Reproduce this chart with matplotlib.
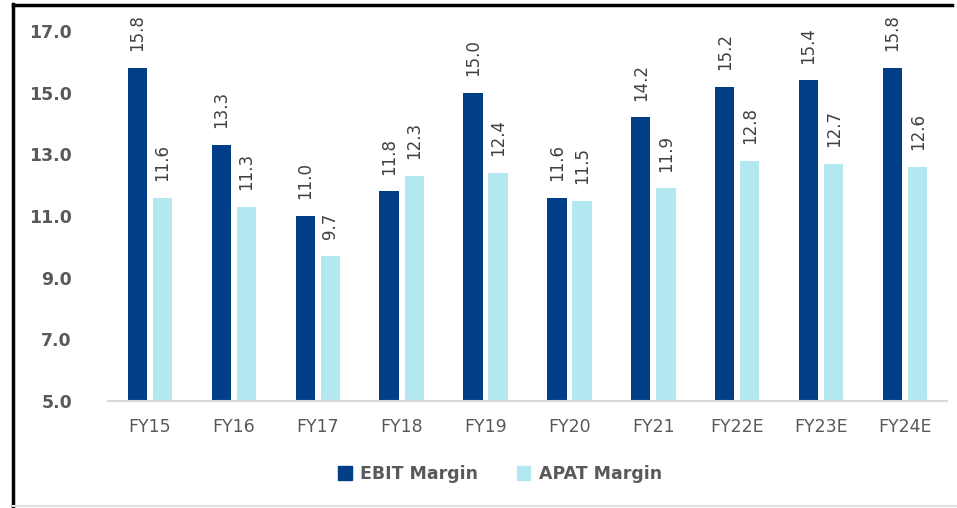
import matplotlib
matplotlib.use("Agg")
import matplotlib.pyplot as plt
import numpy as np
from matplotlib.patches import Patch
from matplotlib.lines import Line2D

categories = ["FY15", "FY16", "FY17", "FY18", "FY19", "FY20", "FY21", "FY22E", "FY23E", "FY24E"]
ebit_margin = [15.8, 13.3, 11.0, 11.8, 15.0, 11.6, 14.2, 15.2, 15.4, 15.8]
apat_margin = [11.6, 11.3, 9.7, 12.3, 12.4, 11.5, 11.9, 12.8, 12.7, 12.6]
yticks = [5.0, 7.0, 9.0, 11.0, 13.0, 15.0, 17.0]

ebit_color = "#003F87"
apat_color = "#B3E8F0"
label_color = "#404040"
tick_color = "#595959"

W, H = 957, 508
fig = plt.figure(figsize=(W / 100, H / 100), dpi=100)
ax = fig.add_axes([108 / W, 1 - 401 / H, 839 / W, 370 / H])

x = np.arange(len(categories))
bw = 0.23
off = 0.15
b1 = ax.bar(x - off, np.array(ebit_margin) - 5, bw, bottom=5, color=ebit_color, label="EBIT Margin")
b2 = ax.bar(x + off, np.array(apat_margin) - 5, bw, bottom=5, color=apat_color, label="APAT Margin")

for xs, vals in ((x - off, ebit_margin), (x + off, apat_margin)):
    for xi, v in zip(xs, vals):
        ax.annotate(f"{v:.1f}", (xi, v), xytext=(0, 12), textcoords="offset points",
                    rotation=90, ha="center", va="bottom", fontsize=12,
                    color=label_color, clip_on=False)

ax.set_xlim(-0.5, len(categories) - 0.5)
ax.set_ylim(5, 17)
ax.set_yticks(yticks)
ax.set_yticklabels([f"{t:.1f}" for t in yticks], fontsize=12.5, fontweight="bold", color=tick_color)
ax.set_xticks(x)
ax.set_xticklabels(categories, fontsize=12.5, color=tick_color)
ax.tick_params(axis="both", length=0)
ax.tick_params(axis="y", pad=26)
ax.tick_params(axis="x", pad=12)
for s in ("top", "right", "left"):
    ax.spines[s].set_visible(False)
ax.spines["bottom"].set_color("#D9D9D9")
ax.spines["bottom"].set_linewidth(1.5)

handles = [Patch(color=ebit_color, label="EBIT Margin"), Patch(color=apat_color, label="APAT Margin")]
fig.legend(handles=handles, loc="center", bbox_to_anchor=(500 / W, 1 - 474 / H),
           ncol=2, frameon=False, prop={"size": 12.5, "weight": "bold"},
           labelcolor=tick_color, handlelength=0.8, handleheight=0.8,
           handletextpad=0.5, columnspacing=2.2)

# figure border
fig.add_artist(Line2D([12.5 / W, 12.5 / W], [0, 1 - 4 / H], transform=fig.transFigure, color="black", lw=2.5))
fig.add_artist(Line2D([12.5 / W, 952 / W], [1 - 4.5 / H, 1 - 4.5 / H], transform=fig.transFigure, color="black", lw=2.5))
fig.add_artist(Line2D([12.5 / W, 957 / W], [1 - 506 / H, 1 - 506 / H], transform=fig.transFigure, color="#E0E0E0", lw=1.5))

fig.savefig("out.png", dpi=100)
